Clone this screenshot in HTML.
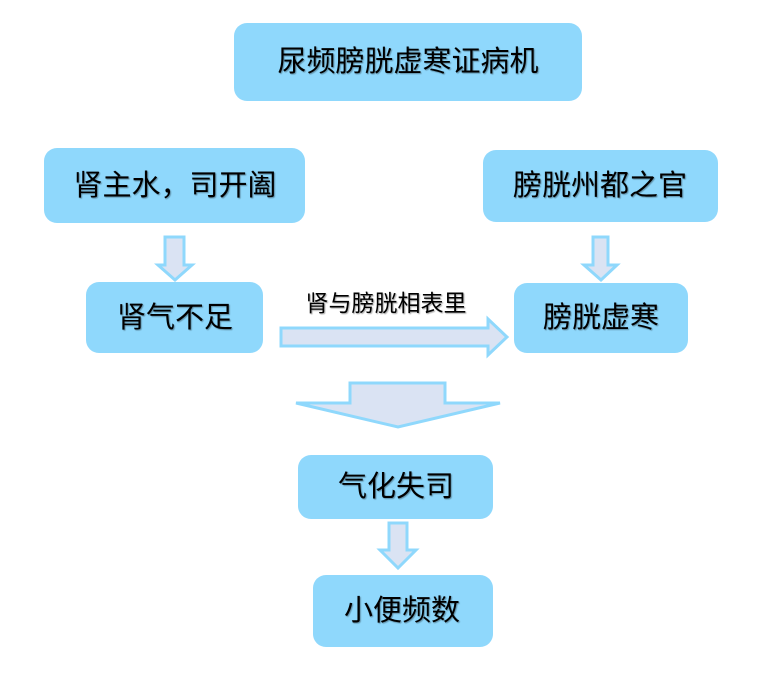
<!DOCTYPE html>
<html>
<head>
<meta charset="utf-8">
<style>
  html,body{margin:0;padding:0;background:#fff;}
  svg{display:block;}
  text{font-family:"Liberation Sans","Noto Sans CJK SC",sans-serif;fill:#000;}
</style>
</head>
<body>
<svg width="777" height="676" viewBox="0 0 777 676" xmlns="http://www.w3.org/2000/svg">
  <defs>
    <filter id="ts" x="-10%" y="-20%" width="120%" height="140%">
      <feDropShadow dx="1" dy="1" stdDeviation="0.6" flood-color="#000" flood-opacity="0.35"/>
    </filter>
  </defs>

  <!-- boxes -->
  <g fill="#8fd8fc">
    <rect x="234" y="23" width="348" height="78" rx="13"/>
    <rect x="44" y="148" width="261" height="75" rx="13"/>
    <rect x="483" y="150" width="235" height="72" rx="13"/>
    <rect x="86" y="282" width="177" height="71" rx="13"/>
    <rect x="514" y="283" width="174" height="70" rx="13"/>
    <rect x="298" y="455" width="195" height="64" rx="13"/>
    <rect x="313" y="575" width="180" height="72" rx="13"/>
  </g>

  <!-- arrows -->
  <g fill="#dae3f3" stroke="#8fd8fc" stroke-width="3" stroke-linejoin="miter">
    <polygon points="165,237 184,237 184,265 192,265 175,280 158,265 165,265"/>
    <polygon points="593,237 608,237 608,265 617,265 601,280 584,265 593,265"/>
    <polygon points="281,328 488,328 488,319 507,337 488,355 488,346 281,346"/>
    <polygon points="350,383 445,383 445,403 500,403 398,427 296,403 350,403"/>
    <polygon points="389,523 407,523 407,550 416,550 398,568 380,550 389,550"/>
  </g>

  <!-- text -->
  <g filter="url(#ts)" text-anchor="middle" dominant-baseline="central" font-size="29">
    <text x="408" y="62">尿频膀胱虚寒证病机</text>
    <text x="175" y="186">肾主水，司开阖</text>
    <text x="600" y="186">膀胱州都之官</text>
    <text x="175" y="318">肾气不足</text>
    <text x="601" y="318">膀胱虚寒</text>
    <text x="396" y="487">气化失司</text>
    <text x="402" y="611">小便频数</text>
  </g>
  <text x="386" y="303" text-anchor="middle" dominant-baseline="central" font-size="23" filter="url(#ts)">肾与膀胱相表里</text>
</svg>
</body>
</html>
